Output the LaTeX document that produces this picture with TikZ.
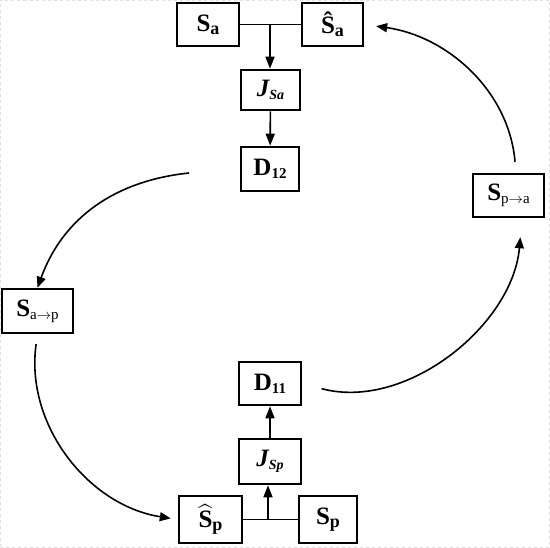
\documentclass[tikz,border=0pt]{standalone}
\usepackage{amsmath}
\usepackage{fontspec}
\setmainfont{Liberation Serif}
\usetikzlibrary{arrows.meta}
\newcommand{\lowsub}[2][16]{\raisebox{-3pt}{\fontsize{#1}{#1}\selectfont #2}}

\begin{document}
\begin{tikzpicture}[x=1pt,y=1pt,
  block/.style={draw,line width=2.6pt,inner sep=0pt,
    font=\fontsize{25}{27}\selectfont\bfseries},
  flow/.style={line width=1.6pt,-{Triangle[length=12pt,width=9pt]}},
  loop/.style={line width=1.6pt,-{Triangle[length=11pt,width=9pt]}}]
\useasboundingbox (0,0) rectangle (550,548);
\draw[gray!25,dashed,line width=.6pt] (.5,.5) rectangle (549.5,547.5);
% Upper chain
\node[block,minimum width=62pt,minimum height=43pt] (Sa) at (208,523.5) {S\lowsub[18]{a}};
\node[block,minimum width=61pt,minimum height=43pt] (Sahat) at (332.5,523.5) {\^{S}\lowsub[18]{a}};
\node[block,minimum width=59pt,minimum height=40pt] (Jsa) at (270.5,458) {\itshape J\lowsub[14]{Sa}};
\node[block,minimum width=58pt,minimum height=44pt] (D12) at (270,379) {D\lowsub[15]{12}};
\coordinate (topjoin) at (270,523.5);
\draw[line width=1pt] (Sa.east) -- (Sahat.west);
\draw[flow] (topjoin) -- (topjoin |- Jsa.north);
\draw[flow] (Jsa) -- (D12);
% Side boxes
\node[block,minimum width=71pt,minimum height=43pt] (Spa) at (508.5,352.5) {S\lowsub[15]{\mdseries p$\rightarrow$a}};
\node[block,minimum width=71pt,minimum height=44pt] (Sap) at (37.5,237) {S\lowsub[15]{\mdseries a$\rightarrow$p}};
% Lower chain
\node[block,minimum width=62pt,minimum height=43pt] (D11) at (270,164.5) {D\lowsub[15]{11}};
\node[block,minimum width=62pt,minimum height=45pt] (Jsp) at (270,86.5) {\itshape J\lowsub[14]{Sp}};
\node[block,minimum width=63pt,minimum height=47pt] (Sphat) at (210.5,28.5) {$\widehat{\text{S}}$\lowsub[18]{p}};
\node[block,minimum width=58pt,minimum height=47pt] (Sp) at (328,28.5) {S\lowsub[18]{p}};
\coordinate (botjoin) at (268,28.5);
\draw[line width=1.6pt] (Sphat.east) -- (Sp.west);
\draw[flow] (botjoin) -- (botjoin |- Jsp.south);
\draw[flow] (Jsp) -- (D11);
% Big loop
\coordinate (fromD12) at (189,375);
\draw[loop] (fromD12) to[out=186,in=70] (Sap.north);
\draw[loop,shorten <=10pt,shorten >=7pt] (Sap.south) to[out=262,in=171] (Sphat.west);
\draw[loop,shorten <=20pt,shorten >=19pt] (D11.east) to[out=345,in=265] ([xshift=13.5pt]Spa.south);
\draw[loop,shorten <=11pt,shorten >=12pt] ([xshift=7.5pt]Spa.north) to[out=95,in=352] (Sahat.east);
\end{tikzpicture}
\end{document}
